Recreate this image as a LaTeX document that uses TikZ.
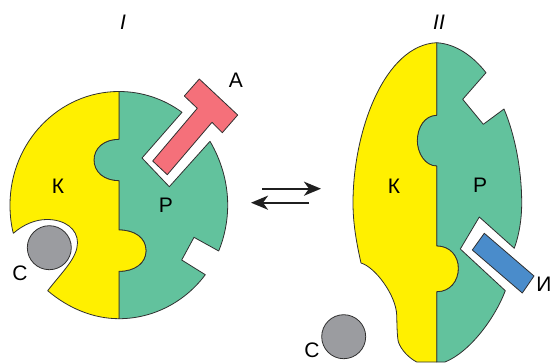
\documentclass[tikz,border=0pt]{standalone}
\usepackage{fontspec}
\setmainfont{Liberation Sans}
\usetikzlibrary{arrows.meta}
\definecolor{yel}{HTML}{FFF000}
\definecolor{grn}{HTML}{62C29D}
\definecolor{pnk}{HTML}{F5707A}
\definecolor{blu}{HTML}{4A8CCB}
\definecolor{gry}{HTML}{9B9CA0}
\definecolor{lin}{HTML}{303030}
\tikzset{part/.style={draw=lin,line width=0.8pt,line join=round},
 lab/.style={font=\fontsize{21}{21}\selectfont,text=black,inner sep=0pt},
 ital/.style={font=\fontsize{21}{21}\selectfont\itshape,text=black,inner sep=0pt},
 eq/.style={line width=2.2pt,-{Stealth[length=17pt,width=14pt,inset=5pt]},draw=black!88}}
\begin{document}
\begin{tikzpicture}[x=1pt,y=-1pt]
\useasboundingbox (0,0) rectangle (552,362);
% left
\path[part,fill=grn] (119,91.5) .. controls (142,91.5) and (164,99) .. (182,112.3)
 -- (142,158) -- (169.3,186.7) -- (210,141.3)
 .. controls (221,160) and (227.7,182) .. (227.7,205)
 .. controls (227.7,221) and (224.5,237) .. (218.7,251)
 -- (194,237.3) -- (181.7,260) -- (205.3,274.7)
 .. controls (185,302) and (153,318.7) .. (119,318.7)
 -- (119,271.3) .. controls (135,271.3) and (146,263) .. (146,250.7)
 .. controls (146,238) and (135,230) .. (119,230)
 -- (119,180.7) .. controls (104,180.7) and (94,172) .. (94,160)
 .. controls (94,148) and (104,139.3) .. (119,139.3) -- cycle;
\path[part,fill=yel] (119,91.5) .. controls (58.8,91.5) and (10,142.3) .. (10,205)
 .. controls (10,215) and (11,224) .. (13.3,233.3)
 .. controls (24,224) and (36,219.5) .. (47,219.5)
 .. controls (65,219.5) and (77.5,229) .. (77.5,242.7)
 .. controls (77.5,258) and (62,272) .. (47.7,290.7)
 .. controls (68,308) and (93,318.7) .. (119,318.7)
 -- (119,271.3) .. controls (135,271.3) and (146,263) .. (146,250.7)
 .. controls (146,238) and (135,230) .. (119,230)
 -- (119,180.7) .. controls (104,180.7) and (94,172) .. (94,160)
 .. controls (94,148) and (104,139.3) .. (119,139.3) -- cycle;
\path[part,fill=pnk] (199.3,79) -- (237.7,115) -- (222.3,132.7) -- (212,122.3)
 -- (167.3,174.7) -- (152.7,161) -- (197.3,108.3) -- (184.3,96) -- cycle;
\node[part,fill=gry,circle,minimum size=44pt,inner sep=0pt] (c1) at (49.3,247.7) {};
% right
\path[part,fill=grn] (436.7,42.7) .. controls (456,44) and (473,56) .. (486,72.7)
 -- (462.7,99.3) -- (483.3,124.3) -- (504,109)
 .. controls (515,135) and (521.7,170) .. (521.7,203)
 .. controls (521.7,220) and (519,235) .. (514.3,248.3)
 -- (479.3,217) -- (460.3,249) -- (505.3,290.7)
 .. controls (495,318) and (470,352) .. (445,362) -- (436.7,362)
 -- (436.7,291.7)
 .. controls (450,291.7) and (458.3,281) .. (458.3,268.3)
 .. controls (458.3,256) and (450,246) .. (436.7,246)
 -- (436.7,166) .. controls (425,166) and (417.3,153) .. (417.3,140.7)
 .. controls (417.3,127) and (425,115.3) .. (436.7,115.3) -- cycle;
\path[part,fill=yel] (436.7,42.7) .. controls (385,45) and (353,130) .. (353,203)
 .. controls (353,225) and (357,245) .. (361,263)
 .. controls (375,267) and (396,295) .. (396.7,315)
 .. controls (397,325) and (397,335) .. (398.3,341.7)
 .. controls (401,350) and (409,358) .. (416.7,362)
 -- (436.7,362) -- (436.7,291.7)
 .. controls (450,291.7) and (458.3,281) .. (458.3,268.3)
 .. controls (458.3,256) and (450,246) .. (436.7,246)
 -- (436.7,166) .. controls (425,166) and (417.3,153) .. (417.3,140.7)
 .. controls (417.3,127) and (425,115.3) .. (436.7,115.3) -- cycle;
\path[part,fill=blu] (484.3,233.3) -- (534,276) -- (522.3,293) -- (472.3,250) -- cycle;
\node[part,fill=gry,circle,minimum size=44pt,inner sep=0pt] (c2) at (343.7,336.7) {};
% arrows
\coordinate (a1) at (262,188.7); \coordinate (a2) at (321,188.7);
\coordinate (b1) at (309,202.7); \coordinate (b2) at (251,202.7);
\draw[eq] (a1) -- (a2);
\draw[eq] (b1) -- (b2);
% labels
\node[ital] (t1) at (123,22) {I};
\node[ital] (t2) at (439,22) {II};
\node[lab] (la) at (236,80) {А};
\node[lab] (lk1) at (58,186) {К};
\node[lab] (lp1) at (166,205) {Р};
\node[lab] (lc1) at (20,273) {С};
\node[lab] (lk2) at (394,186) {К};
\node[lab] (lp2) at (480,185) {Р};
\node[lab] (lc2) at (312,350) {С};
\node[lab] (li) at (544,284) {И};
\end{tikzpicture}
\end{document}
